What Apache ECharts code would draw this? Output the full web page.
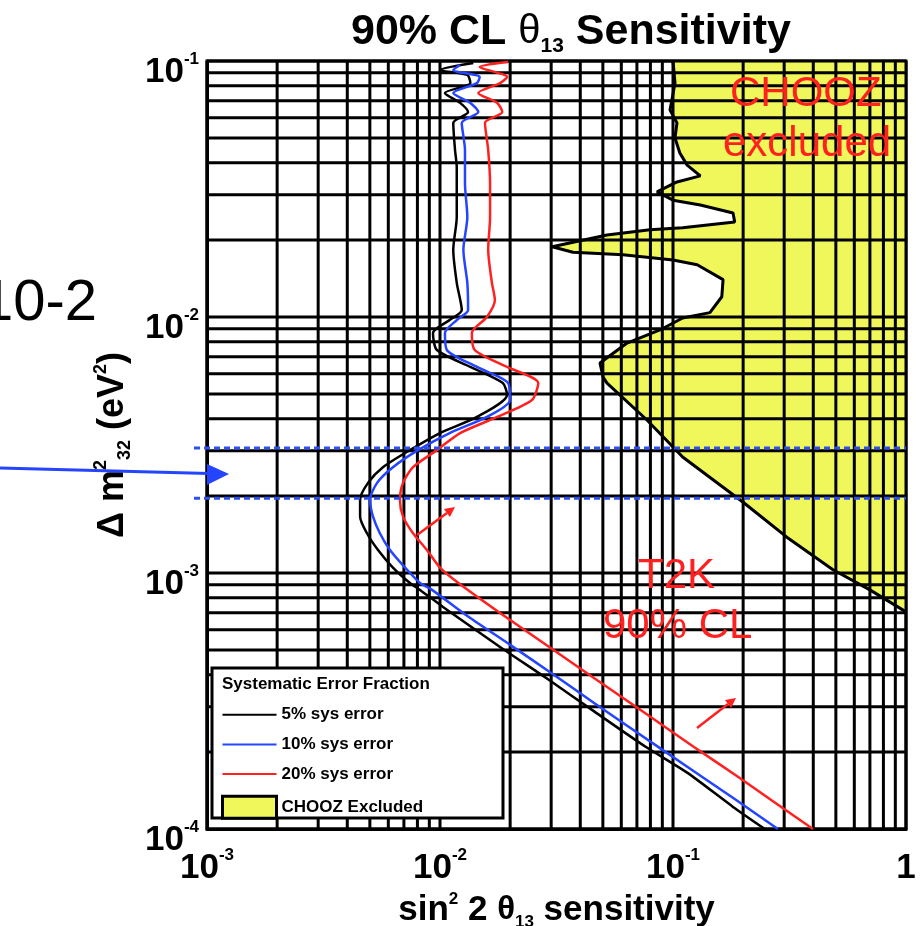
<!DOCTYPE html>
<html><head><meta charset="utf-8">
<script src="https://cdn.jsdelivr.net/npm/echarts@6/dist/echarts.min.js"></script>
<style>html,body{margin:0;padding:0;background:#fff}#c{width:921px;height:926px}</style>
</head><body><div id="c"></div>
<script>
const FONT = "'Liberation Sans',Arial,sans-serif";
const PLAIN = "'Liberation Sans',Arial,sans-serif";

// tick labels [base, exponent]
const xTickLabels = [['10','-3'],['10','-2'],['10','-1'],['1','']];
const yTickLabels = [['10','-4'],['10','-3'],['10','-2'],['10','-1']];

// grid line values (log decades 1..9)
const xGridValues = [0.001,0.002,0.003,0.004,0.005,0.006,0.007,0.008,0.009,
  0.01,0.02,0.03,0.04,0.05,0.06,0.07,0.08,0.09,
  0.1,0.2,0.3,0.4,0.5,0.6,0.7,0.8,0.9,1];
const yGridValues = [0.0001,0.0002,0.0003,0.0004,0.0005,0.0006,0.0007,0.0008,0.0009,
  0.001,0.002,0.003,0.004,0.005,0.006,0.007,0.008,0.009,
  0.01,0.02,0.03,0.04,0.05,0.06,0.07,0.08,0.09,0.1];
// blue dotted Δm² band
const bandValues = [0.00308, 0.00196];

// 5% sys error (black)
const sys5X = [0.0139,0.0100,0.0131,0.0135,0.0105,0.0122,0.0132,0.0114,0.0116,0.0118,0.0118,0.0114,0.0118,0.0124,0.0110,0.00933,0.00970,0.0135,0.0186,0.0194,0.0144,0.0100,0.00743,0.00569,0.00491,0.00454,0.00454,0.00486,0.00542,0.00628,0.00743,0.00821,0.0103,0.0181,0.0294,0.0449,0.0766,0.115,0.181,0.248];
const sys5Y = [0.0982,0.0922,0.0882,0.0820,0.0750,0.0686,0.0632,0.0573,0.0449,0.0385,0.0246,0.0183,0.0136,0.01064,0.00973,0.00866,0.00743,0.00638,0.00552,0.00496,0.00407,0.00352,0.00302,0.00259,0.00225,0.00193,0.00166,0.00143,0.00123,0.00105,0.000914,0.000859,0.000737,0.000514,0.000382,0.000292,0.000209,0.000166,0.000122,0.0001];
// 10% sys error (blue)
const sys10X = [0.0122,0.0114,0.0148,0.0144,0.0114,0.0135,0.0146,0.0124,0.0128,0.0128,0.0131,0.0126,0.0131,0.0132,0.0118,0.0105,0.0107,0.0144,0.0196,0.0200,0.0159,0.0110,0.00805,0.00628,0.00537,0.00501,0.00516,0.00552,0.00610,0.00708,0.00821,0.00924,0.0133,0.0200,0.0300,0.0460,0.0879,0.186,0.282];
const sys10Y = [0.0965,0.0922,0.0866,0.0820,0.0750,0.0686,0.0632,0.0573,0.0449,0.0333,0.0246,0.0183,0.0136,0.01064,0.00973,0.00866,0.00743,0.00638,0.00552,0.00474,0.00407,0.00352,0.00302,0.00259,0.00225,0.00193,0.00166,0.00143,0.00123,0.00105,0.000914,0.000859,0.000673,0.000524,0.000407,0.000310,0.000207,0.000130,0.0001];
// 20% sys error (red)
const sys20X = [0.0196,0.0148,0.0194,0.0181,0.0146,0.0176,0.0185,0.0156,0.0161,0.0164,0.0164,0.0161,0.0167,0.0172,0.0159,0.0137,0.0141,0.0194,0.0264,0.0248,0.0176,0.0122,0.00970,0.00766,0.00694,0.00673,0.00694,0.00766,0.00879,0.0100,0.0120,0.0181,0.0278,0.0458,0.0758,0.123,0.190,0.263,0.399];
const sys20Y = [0.0991,0.0948,0.0866,0.0820,0.0750,0.0686,0.0632,0.0573,0.0449,0.0333,0.0246,0.0183,0.0136,0.01165,0.0100,0.00866,0.00743,0.00638,0.00552,0.00474,0.00407,0.00352,0.00302,0.00259,0.00225,0.00193,0.00166,0.00143,0.00123,0.00105,0.000914,0.000698,0.000533,0.000389,0.000284,0.000209,0.000160,0.000130,0.0001];
// CHOOZ exclusion boundary
const choozX = [0.100,0.102,0.0971,0.104,0.102,0.107,0.115,0.131,0.104,0.0854,0.100,0.131,0.181,0.184,0.110,0.0796,0.0521,0.0303,0.0372,0.0610,0.100,0.127,0.164,0.162,0.144,0.110,0.0879,0.0635,0.0486,0.0501,0.0521,0.0773,0.110,0.200,0.308,0.486,0.700,1.0];
const choozY = [0.100,0.0820,0.0644,0.0573,0.0500,0.0437,0.0392,0.0356,0.0337,0.0308,0.0286,0.0274,0.0255,0.0235,0.0223,0.0219,0.0209,0.0188,0.0179,0.0175,0.0167,0.0160,0.0140,0.0120,0.0104,0.00991,0.00890,0.00791,0.00661,0.00583,0.00552,0.00396,0.00284,0.00189,0.00138,0.00103,0.000859,0.000705];

const zip = (a, b) => a.map((v, i) => [v, b[i]]);
const YELLOW = '#eff75a';
const BLUE = '#2444ff';
const RED = '#ff2020';
const X_MIN = 0.001, X_MAX = 1, Y_MIN = 0.0001, Y_MAX = 0.1;

const tickRich = {
  n: {fontFamily: FONT, fontWeight: 'bold', fontSize: 35, color: '#000', lineHeight: 42},
  s: {fontFamily: FONT, fontWeight: 'bold', fontSize: 17, color: '#000', lineHeight: 22, verticalAlign: 'top'}
};
function tickFmt(labels, offset) {
  return function (v) {
    const i = Math.round(Math.log10(v)) + offset;
    const t = labels[i];
    if (!t) return '';
    return t[1] ? '{n|' + t[0] + '}{s|' + t[1] + '}' : '{n|' + t[0] + '}';
  };
}
function gridLineSeries(values, vertical, z, stroke, dash, extendLeft) {
  return {
    type: 'custom', z: z, silent: true, encode: {x: 0, y: 1},
    data: values.map(v => vertical ? [v, Y_MIN] : [X_MIN, v]),
    renderItem: function (params, api) {
      let p1, p2;
      if (vertical) {
        const v = api.value(0);
        p1 = api.coord([v, Y_MIN]); p2 = api.coord([v, Y_MAX]);
      } else {
        const v = api.value(1);
        p1 = api.coord([X_MIN, v]); p2 = api.coord([X_MAX, v]);
        p1[0] -= (extendLeft || 0);
      }
      return {type: 'line', shape: {x1: p1[0], y1: p1[1], x2: p2[0], y2: p2[1]},
        style: {stroke: stroke, lineWidth: 3, lineDash: dash || null}};
    }
  };
}

const chart = echarts.init(document.getElementById('c'), null, {renderer: 'canvas'});
const option = {
  animation: false,
  backgroundColor: '#fff',
  title: {
    text: '{a|90% CL }{t|θ}{b|13}{a| Sensitivity}',
    left: 346, top: 2,
    textStyle: {
      rich: {
        a: {fontFamily: FONT, fontWeight: 'bold', fontSize: 43, color: '#000', lineHeight: 50},
        t: {fontFamily: PLAIN, fontWeight: 'normal', fontSize: 40, color: '#000', lineHeight: 50},
        b: {fontFamily: FONT, fontWeight: 'bold', fontSize: 21, color: '#000', lineHeight: 20, verticalAlign: 'bottom'}
      }
    }
  },
  grid: {left: 207, right: 15, top: 61, bottom: 97, containLabel: false, outerBoundsMode: 'none',
    show: true, borderColor: '#000', borderWidth: 3, backgroundColor: 'transparent'},
  xAxis: {
    type: 'log', logBase: 10, min: X_MIN, max: X_MAX,
    axisLine: {show: true, lineStyle: {color: '#000', width: 3}},
    axisTick: {show: false}, splitLine: {show: false}, minorTick: {show: false},
    axisLabel: {formatter: tickFmt(xTickLabels, 3), rich: tickRich, margin: 18},
    name: '{a|sin}{p|2}{a| 2 }{t|θ}{b|13}{a| sensitivity}',
    nameLocation: 'middle', nameGap: 37,
    nameTextStyle: {
      rich: {
        a: {fontFamily: FONT, fontWeight: 'bold', fontSize: 35, color: '#000', lineHeight: 40},
        t: {fontFamily: PLAIN, fontWeight: 'bold', fontSize: 33, color: '#000', lineHeight: 40},
        p: {fontFamily: FONT, fontWeight: 'bold', fontSize: 17, color: '#000', lineHeight: 20, verticalAlign: 'top'},
        b: {fontFamily: FONT, fontWeight: 'bold', fontSize: 17, color: '#000', lineHeight: 20, verticalAlign: 'bottom'}
      }
    }
  },
  yAxis: {
    type: 'log', logBase: 10, min: Y_MIN, max: Y_MAX,
    axisLine: {show: true, lineStyle: {color: '#000', width: 3}},
    axisTick: {show: false}, splitLine: {show: false}, minorTick: {show: false},
    axisLabel: {formatter: tickFmt(yTickLabels, 4), rich: tickRich, margin: 8, padding: [22, 0, 0, 0]},
    name: '{a|Δ m}{p|2}{b|32}{a| (eV}{p|2}{a|)}',
    nameLocation: 'middle', nameGap: 61, nameRotate: 90,
    nameTextStyle: {
      rich: {
        a: {fontFamily: FONT, fontWeight: 'bold', fontSize: 36, color: '#000', lineHeight: 42},
        p: {fontFamily: FONT, fontWeight: 'bold', fontSize: 18, color: '#000', lineHeight: 21, verticalAlign: 'top'},
        b: {fontFamily: FONT, fontWeight: 'bold', fontSize: 18, color: '#000', lineHeight: 21, verticalAlign: 'bottom'}
      }
    }
  },
  legend: {
    orient: 'vertical', left: 216, top: 701, itemWidth: 54, itemHeight: 22, itemGap: 12,
    selectedMode: false, z: 10,
    textStyle: {fontFamily: FONT, fontWeight: 'bold', fontSize: 17, color: '#000'},
    data: [
      {name: '5% sys error', itemStyle: {color: 'rgba(0,0,0,0)', borderColor: 'rgba(0,0,0,0)', borderWidth: 0}},
      {name: '10% sys error', itemStyle: {color: 'rgba(0,0,0,0)', borderColor: 'rgba(0,0,0,0)', borderWidth: 0}},
      {name: '20% sys error', itemStyle: {color: 'rgba(0,0,0,0)', borderColor: 'rgba(0,0,0,0)', borderWidth: 0}},
      {name: 'CHOOZ Excluded', icon: 'rect', itemStyle: {color: YELLOW, borderColor: '#000', borderWidth: 3}}
    ]
  },
  series: [
    {
      name: 'CHOOZ Excluded', type: 'custom', z: 1, silent: true,
      itemStyle: {color: YELLOW},
      encode: {x: 0, y: 1},
      data: zip(choozX, choozY),
      renderItem: function (params, api) {
        if (params.dataIndex !== 0) return null;
        const pts = choozX.map((x, i) => api.coord([x, choozY[i]]));
        pts.push(api.coord([X_MAX, choozY[choozY.length - 1]]));
        pts.push(api.coord([X_MAX, Y_MAX]));
        return {type: 'polygon', shape: {points: pts}, style: {fill: YELLOW}};
      }
    },
    gridLineSeries(xGridValues, true, 2, '#000'),
    gridLineSeries(yGridValues, false, 2, '#000'),
    {
      name: 'CHOOZ boundary', type: 'line', z: 3, symbol: 'none', silent: true,
      lineStyle: {color: '#000', width: 3},
      data: zip(choozX, choozY)
    },
    {
      name: '5% sys error', type: 'line', z: 4, symbol: 'none', smooth: 0.25,
      itemStyle: {color: '#000'}, lineStyle: {color: '#000', width: 2.5},
      data: zip(sys5X, sys5Y)
    },
    {
      name: '10% sys error', type: 'line', z: 4, symbol: 'none', smooth: 0.25,
      itemStyle: {color: BLUE}, lineStyle: {color: BLUE, width: 2.5},
      data: zip(sys10X, sys10Y)
    },
    {
      name: '20% sys error', type: 'line', z: 4, symbol: 'none', smooth: 0.25,
      itemStyle: {color: RED}, lineStyle: {color: RED, width: 2.5},
      data: zip(sys20X, sys20Y)
    },
    gridLineSeries(bandValues, false, 5, '#2f50f0', [6, 4], 13)
  ],
  graphic: [
    {type: 'rect', z: 6, shape: {x: 212, y: 668, width: 291, height: 150}, style: {fill: '#fff', stroke: '#000', lineWidth: 3}},
    {type: 'text', z: 7, x: 222, y: 684, style: {text: 'Systematic Error Fraction', font: 'bold 17px ' + FONT, fill: '#000', textVerticalAlign: 'middle'}},
    {type: 'text', z: 7, x: -19, y: 304, style: {text: '10-2', font: '58px ' + PLAIN, fill: '#000', textVerticalAlign: 'middle'}},
    {type: 'line', z: 7, shape: {x1: 0, y1: 468, x2: 209, y2: 473.5}, style: {stroke: BLUE, lineWidth: 3}},
    {type: 'polygon', z: 7, shape: {points: [[229, 474], [207, 464], [207, 485]]}, style: {fill: BLUE}},
    {type: 'text', z: 7, x: 730, y: 94, style: {text: 'CHOOZ', font: '42px ' + PLAIN, fill: RED, textVerticalAlign: 'middle'}},
    {type: 'text', z: 7, x: 723, y: 144, style: {text: 'excluded', font: '42px ' + PLAIN, fill: RED, textVerticalAlign: 'middle'}},
    {type: 'text', z: 7, x: 638, y: 576, style: {text: 'T2K', font: '42px ' + PLAIN, fill: RED, textVerticalAlign: 'middle'}},
    {type: 'text', z: 7, x: 603, y: 626, style: {text: '90% CL', font: '42px ' + PLAIN, fill: RED, textVerticalAlign: 'middle'}},
    {type: 'line', z: 7, shape: {x1: 417, y1: 535, x2: 447, y2: 513}, style: {stroke: RED, lineWidth: 2.5}},
    {type: 'polygon', z: 7, shape: {points: [[455, 507], [449.9, 516.9], [443.9, 508.9]]}, style: {fill: RED}},
    {type: 'line', z: 7, shape: {x1: 697, y1: 728, x2: 728, y2: 704}, style: {stroke: RED, lineWidth: 2.5}},
    {type: 'polygon', z: 7, shape: {points: [[736, 698], [731.1, 708.1], [725.0, 700.1]]}, style: {fill: RED}}
  ]
};
chart.setOption(option);
</script>
</body></html>
